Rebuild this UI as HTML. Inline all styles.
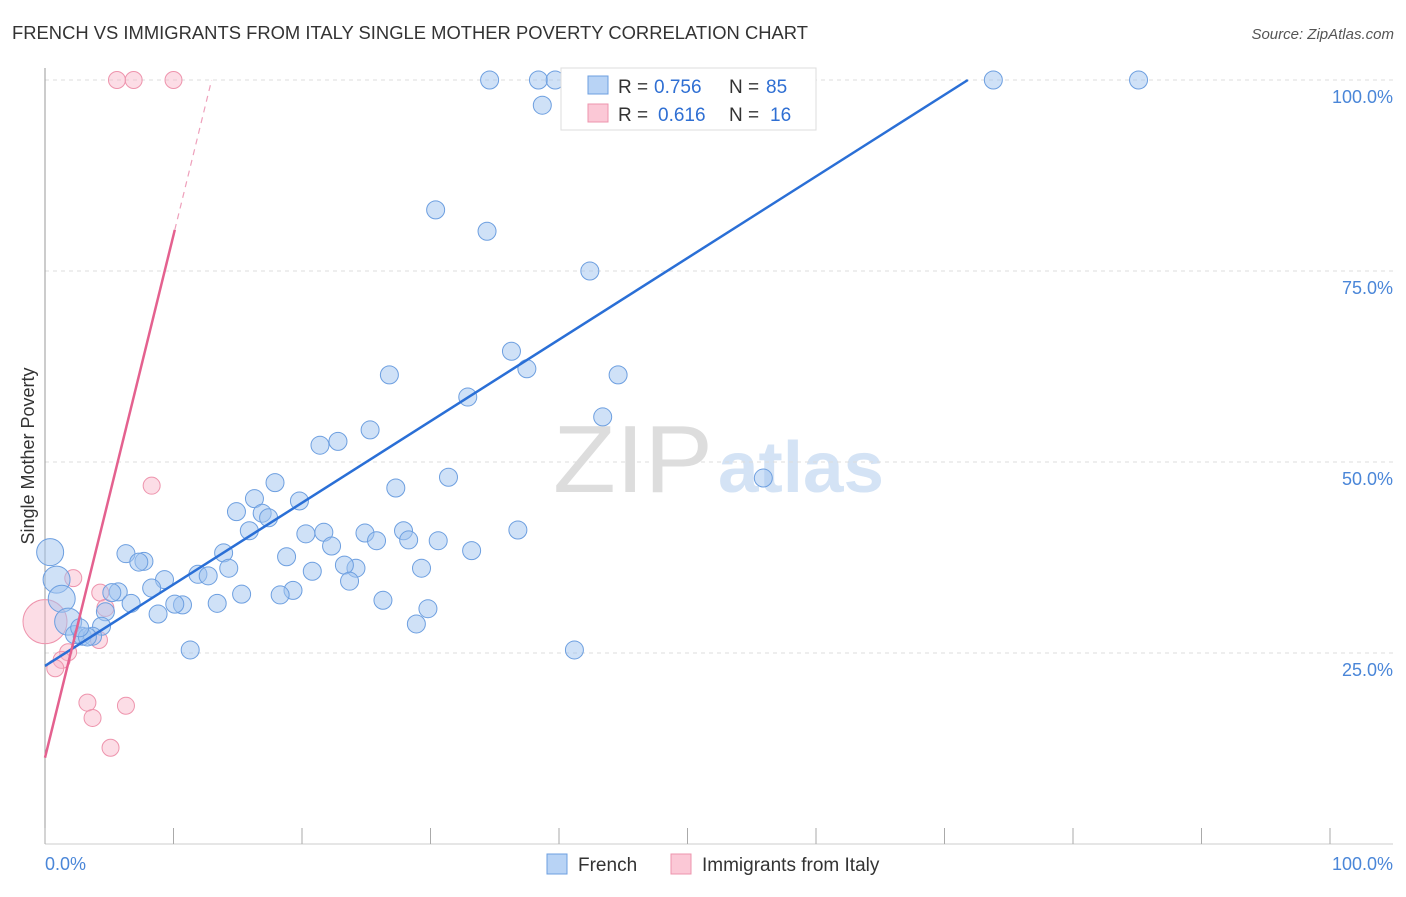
<!DOCTYPE html>
<html><head><meta charset="utf-8"><style>
body{margin:0;background:#fff;font-family:"Liberation Sans",sans-serif;}
svg text{font-family:"Liberation Sans",sans-serif;}
</style></head><body>
<svg id="chart" width="1406" height="892" xmlns="http://www.w3.org/2000/svg">
<text x="12" y="39" font-size="18" fill="#333" textLength="796" lengthAdjust="spacingAndGlyphs">FRENCH VS IMMIGRANTS FROM ITALY SINGLE MOTHER POVERTY CORRELATION CHART</text>
<text x="1394" y="39" font-size="15" fill="#555" font-style="italic" text-anchor="end">Source: ZipAtlas.com</text>
<text x="553" y="492" font-size="96" fill="#ddd" font-family="Liberation Serif,serif" textLength="160" lengthAdjust="spacingAndGlyphs">ZIP</text>
<text x="718" y="492" font-size="72" fill="#d4e3f5" font-weight="bold" textLength="166" lengthAdjust="spacingAndGlyphs">atlas</text>
<text transform="translate(34,456) rotate(-90)" font-size="18" fill="#333" text-anchor="middle">Single Mother Poverty</text>
<g id="grid"></g><g id="axes"></g><g id="marks"></g>
<g>
<rect x="561" y="68" width="255" height="62" fill="#fff" stroke="#ddd"/>
<rect x="588" y="76" width="20" height="18" fill="#b8d3f5" stroke="#6d9fe0"/>
<rect x="588" y="104" width="20" height="18" fill="#fbc8d6" stroke="#ee94ad"/>
<text x="618" y="93" font-size="19" fill="#333">R =</text>
<text x="654" y="93" font-size="19" fill="#2f6fd3">0.756</text>
<text x="729" y="93" font-size="19" fill="#333">N =</text>
<text x="766" y="93" font-size="19" fill="#2f6fd3">85</text>
<text x="618" y="121" font-size="19" fill="#333">R =</text>
<text x="658" y="121" font-size="19" fill="#2f6fd3">0.616</text>
<text x="729" y="121" font-size="19" fill="#333">N =</text>
<text x="770" y="121" font-size="19" fill="#2f6fd3">16</text>
</g>
<g>
<rect x="547" y="854" width="20" height="20" fill="#b8d3f5" stroke="#6d9fe0"/>
<text x="578" y="871" font-size="19" fill="#333">French</text>
<rect x="671" y="854" width="20" height="20" fill="#fbc8d6" stroke="#ee94ad"/>
<text x="702" y="871" font-size="19" fill="#333">Immigrants from Italy</text>
</g>
</svg>
<script>
const frenchX=[34.6,38.4,39.7,41.8,46.5,50.7,51.6,73.8,85.1,38.7,30.4,34.4,42.4,36.3,37.5,26.8,44.6,32.9,43.4,25.3,22.8,21.4,31.4,55.9,17.9,27.3,16.3,19.8,14.9,16.9,17.4,36.8,15.9,27.9,21.7,24.9,20.3,25.8,30.6,28.3,22.3,33.2,0.4,6.3,13.9,7.7,7.3,18.8,24.2,20.8,23.3,29.3,14.3,11.9,9.3,12.7,0.9,23.7,8.3,15.3,19.3,18.3,5.7,5.2,26.3,1.3,6.7,13.4,10.7,10.1,29.8,8.8,4.7,28.9,1.8,4.4,2.3,2.9,3.7,3.3,11.3,41.2,2.7];
const frenchY=[100,100,100,100,100,100,100,100,100,96.7,83.0,80.2,75.0,64.5,62.2,61.4,61.4,58.5,55.9,54.2,52.7,52.2,48.0,47.9,47.3,46.6,45.2,44.9,43.5,43.3,42.7,41.1,41.0,41.0,40.8,40.7,40.6,39.7,39.7,39.8,39.0,38.4,38.2,38.0,38.1,37.0,36.9,37.6,36.1,35.7,36.5,36.1,36.1,35.3,34.6,35.1,34.6,34.4,33.5,32.7,33.2,32.6,33.0,32.9,31.9,32.1,31.5,31.5,31.3,31.4,30.8,30.1,30.4,28.8,29.1,28.5,27.4,27.2,27.2,27.1,25.4,25.4,28.3];
const italyX=[5.6,6.9,10.0,8.3,2.2,4.3,4.7,0,4.2,1.8,1.3,0.8,3.3,6.3,3.7,5.1];
const italyY=[100,100,100,46.9,34.8,32.9,30.9,29.1,26.7,25.1,24.1,23.0,18.5,18.1,16.5,12.6];
const frenchTrend=[23.3,1.068];
const italyTrend=[11.3,6.84];
const yTicks=[25,50,75,100];
const xTicks=[0,10,20,30,40,50,60,70,80,90,100];
const frenchBig=[42,56,65,74];
const italyBig=[7];
const NS="http://www.w3.org/2000/svg";
const X=v=>45+v*12.85, Y=v=>844-v*7.64;
function mk(tag,attrs,parent){const e=document.createElementNS(NS,tag);for(const k in attrs)e.setAttribute(k,attrs[k]);parent.appendChild(e);return e;}
const grid=document.getElementById('grid'),axes=document.getElementById('axes'),marks=document.getElementById('marks');
yTicks.forEach(t=>{
 const l=mk('line',{x1:45,x2:1393,y1:Y(t),y2:Y(t),stroke:'#ddd','stroke-dasharray':'4,4'},grid);
 
 
 const tx=mk('text',{x:1393,y:Y(t)+23,'font-size':18,fill:'#4a86d8','text-anchor':'end'},axes);
 tx.textContent=t.toFixed(1)+'%';
 
 
});
mk('line',{x1:45,x2:45,y1:68,y2:844,stroke:'#999'},axes);
mk('line',{x1:45,x2:1393,y1:844,y2:844,stroke:'#ccc'},axes);
xTicks.forEach(t=>{
 const l=mk('line',{x1:X(t),x2:X(t),y1:828,y2:844,stroke:'#aaa'},axes);
 
 
});
const xl0=mk('text',{x:45,y:870,'font-size':18,fill:'#4a86d8'},axes);xl0.textContent='0.0%';


const xl1=mk('text',{x:1393,y:870,'font-size':18,fill:'#4a86d8','text-anchor':'end'},axes);xl1.textContent='100.0%';


italyX.forEach((x,i)=>{
 const c=mk('circle',{cx:X(x),cy:Y(italyY[i]),r:italyBig.includes(i)?22:8.5,fill:'rgba(248,180,200,0.45)',stroke:'#ee94ad','stroke-width':1},marks);
 
 
});
frenchX.forEach((x,i)=>{
 const c=mk('circle',{cx:X(x),cy:Y(frenchY[i]),r:frenchBig.includes(i)?13.5:9,fill:'rgba(160,196,240,0.5)',stroke:'#6d9fe0','stroke-width':1},marks);
 
 
});
const fx1=(100-frenchTrend[0])/frenchTrend[1];
const fl=mk('line',{x1:X(0),y1:Y(frenchTrend[0]),x2:X(fx1),y2:Y(100),stroke:'#2a6fd6','stroke-width':2.5},marks);


const ix1=10.1, ix2=(100-italyTrend[0])/italyTrend[1];
const il=mk('line',{x1:X(0),y1:Y(italyTrend[0]),x2:X(ix1),y2:Y(italyTrend[0]+italyTrend[1]*ix1),stroke:'#e4618f','stroke-width':2.5},marks);


const id=mk('line',{x1:X(ix1),y1:Y(italyTrend[0]+italyTrend[1]*ix1),x2:X(ix2),y2:Y(100),stroke:'#eea0bb','stroke-width':1.2,'stroke-dasharray':'6,5'},marks);


</script>
</body></html>
